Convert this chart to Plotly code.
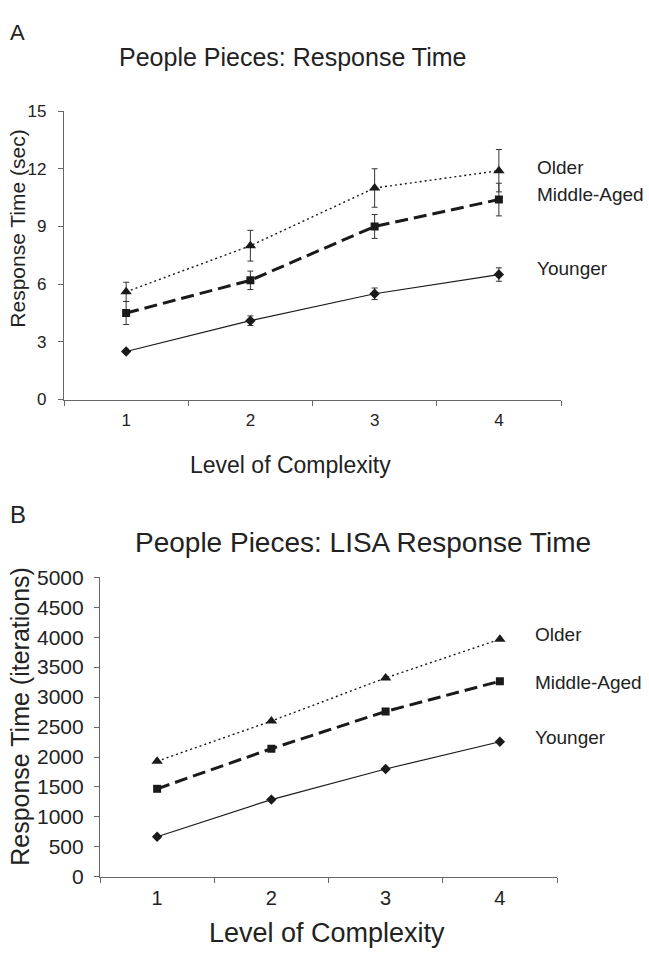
import plotly.graph_objects as go

levels = ["1", "2", "3", "4"]

# Panel A: human response time (sec)
a_older = [5.6, 8.0, 11.0, 11.9]
a_older_err = [0.5, 0.8, 1.0, 1.1]
a_middle = [4.5, 6.2, 9.0, 10.4]
a_middle_err = [0.6, 0.48, 0.62, 0.85]
a_younger = [2.5, 4.1, 5.5, 6.5]
a_younger_err = [0.08, 0.25, 0.3, 0.35]

# Panel B: LISA response time (iterations)
b_older = [1930, 2600, 3320, 3965]
b_middle = [1470, 2140, 2760, 3265]
b_younger = [670, 1290, 1800, 2255]

series_names = ["Older", "Middle-Aged", "Younger"]

W, H = 649, 966
C = "#1a1a1a"
FONT = "Liberation Sans, Arial, sans-serif"

styles = {
    "Older": dict(line=dict(color=C, width=1.4, dash="2px,3px"), marker=dict(symbol="triangle-up", size=10, color=C)),
    "Middle-Aged": dict(line=dict(color=C, width=3, dash="13px,6px"), marker=dict(symbol="square", size=8, color=C)),
    "Younger": dict(line=dict(color=C, width=1.2), marker=dict(symbol="diamond", size=8, color=C)),
}

fig = go.Figure()

a_vals = {"Older": (a_older, a_older_err), "Middle-Aged": (a_middle, a_middle_err), "Younger": (a_younger, a_younger_err)}
for name in series_names:
    v, e = a_vals[name]
    fig.add_trace(go.Scatter(
        x=levels, y=v, mode="lines+markers", name=name, xaxis="x", yaxis="y",
        error_y=dict(type="data", array=e, visible=True, color="#333", thickness=1, width=3),
        showlegend=False, **styles[name]))

b_vals = {"Older": b_older, "Middle-Aged": b_middle, "Younger": b_younger}
for name in series_names:
    fig.add_trace(go.Scatter(
        x=levels, y=b_vals[name], mode="lines+markers", name=name, xaxis="x2", yaxis="y2",
        showlegend=False, **styles[name]))

def px_x(p):
    return p / W

def px_y(p):
    return 1 - p / H

axis_common = dict(showline=True, linecolor="#666", linewidth=1.2, showgrid=False, zeroline=False,
                   ticks="outside", tickcolor="#666", ticklen=5)

def tf(size):
    return dict(family=FONT, size=size, color="#222")

cat_range = [-0.5, 3.5]

fig.update_layout(
    width=W, height=H,
    margin=dict(l=0, r=0, t=0, b=0),
    paper_bgcolor="white", plot_bgcolor="white",
    font=dict(family=FONT, color="#222"),
    xaxis=dict(domain=[px_x(64), px_x(561)], anchor="y", type="category", tickson="boundaries",
               range=cat_range, ticklabelstandoff=5, tickfont=tf(17), **axis_common),
    yaxis=dict(domain=[px_y(397), px_y(101.5)], anchor="x", range=[0, 15], tickvals=[0, 3, 6, 9, 12, 15],
               ticklabelstandoff=8, tickfont=tf(17), **axis_common),
    xaxis2=dict(domain=[px_x(100), px_x(557)], anchor="y2", type="category", tickson="boundaries",
                range=cat_range, ticklabelstandoff=3, tickfont=tf(20), **axis_common),
    yaxis2=dict(domain=[px_y(886), px_y(579)], anchor="x2", range=[0, 5000], dtick=500,
                ticklabelstandoff=6, tickfont=tf(21), **axis_common),
)

ann = []
def add_text(x, y, text, size, angle=0, xanchor="center"):
    ann.append(dict(x=px_x(x), y=px_y(y), xref="paper", yref="paper", text=text, showarrow=False,
                    font=tf(size), textangle=angle, xanchor=xanchor, yanchor="middle"))

add_text(8, 21, "A", 22, xanchor="left")
add_text(292, 46, "People Pieces: Response Time", 25)
add_text(18, 222, "Response Time (sec)", 21, angle=-90)
add_text(290, 464, "Level of Complexity", 23)
add_text(535, 159, "Older", 19, xanchor="left")
add_text(535, 187, "Middle-Aged", 19, xanchor="left")
add_text(535, 263, "Younger", 19, xanchor="left")

add_text(8, 515, "B", 24, xanchor="left")
add_text(363, 543, "People Pieces: LISA Response Time", 28)
add_text(20, 722, "Response Time (iterations)", 25, angle=-90)
add_text(327, 943, "Level of Complexity", 27)
add_text(533, 638, "Older", 19, xanchor="left")
add_text(533, 687, "Middle-Aged", 19, xanchor="left")
add_text(533, 743, "Younger", 19, xanchor="left")

fig.update_layout(annotations=ann)

fig.write_html("out.html", config={"displayModeBar": False},
               post_script="document.body.style.margin='0px';")
